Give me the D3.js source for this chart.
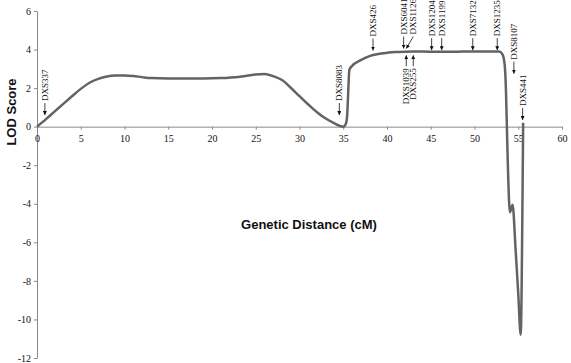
<!DOCTYPE html>
<html>
<head>
<meta charset="utf-8">
<script src="https://cdn.jsdelivr.net/npm/d3@7"></script>
<style>
    body { margin: 0; background: #fff; }
    svg { display: block; }
</style>
</head>
<body>
<svg id="chart"></svg>
<script>
// LOD curve
const distance = [0, 1, 2, 3, 4, 5, 6, 7, 8, 9, 10, 11, 12, 13, 15, 17, 19, 21, 23, 24, 25, 26, 27, 28, 29, 30, 31, 32, 33, 34, 34.6, 35.0, 35.3, 35.45, 35.55, 35.7, 36, 37, 38, 39, 40, 41, 42, 43, 44, 46, 48, 50, 52, 52.8, 53.2, 53.45, 53.6, 53.7, 53.85, 54.05, 54.35, 54.7, 55.0, 55.28, 55.5, 55.56];
const lod = [0, 0.38, 0.78, 1.18, 1.58, 1.96, 2.28, 2.48, 2.6, 2.65, 2.66, 2.63, 2.57, 2.52, 2.5, 2.5, 2.5, 2.52, 2.58, 2.64, 2.71, 2.73, 2.62, 2.42, 2.02, 1.58, 1.15, 0.75, 0.42, 0.17, 0.04, 0.0, 0.15, 0.6, 1.6, 2.95, 3.15, 3.45, 3.66, 3.77, 3.83, 3.87, 3.89, 3.9, 3.9, 3.88, 3.89, 3.9, 3.9, 3.9, 3.75, 3.2, 1.8, 0, -2.6, -4.45, -4.05, -6.4, -8.65, -10.8, -3.0, 0.2];

const xTicks = [0, 5, 10, 15, 20, 25, 30, 35, 40, 45, 50, 55, 60];
const yTicks = [-12, -10, -8, -6, -4, -2, 0, 2, 4, 6];

// Marker labels: where the arrow points and which side the text sits on
const markerNames = ['DXS337', 'DXS8083', 'DXS426', 'DXS6041', 'DXS1126', 'DXS1204', 'DXS1199', 'DXS7132', 'DXS1235', 'DXS8107', 'DXS441', 'DXS1039', 'DXS255'];
const markerCM = [0.9, 34.55, 38.4, 41.9, 42.2, 45.1, 46.25, 49.8, 52.6, 54.5, 55.5, 42.2, 43.0];
const markerLabelCM = [0.9, 34.55, 38.4, 41.9, 43.0, 45.1, 46.25, 49.8, 52.6, 54.5, 55.5, 42.2, 43.0];
const markerTip = [0.6, 0.6, 3.95, 4.05, 4.05, 3.97, 3.97, 3.97, 3.97, 2.75, 0.35, 3.7, 3.7];
const markerSide = ['above', 'above', 'above', 'above', 'above', 'above', 'above', 'above', 'above', 'above', 'above', 'below', 'below'];

const width = 571;
const height = 363;

const svg = d3.select('#chart')
    .attr('width', width)
    .attr('height', height);

const x = d3.scaleLinear().domain([0, 60]).range([37, 562]);
const y = d3.scaleLinear().domain([-12, 6]).range([358, 11]);

const axisColor = '#8a8a8a';
const serif = '"Liberation Serif", "Times New Roman", serif';
const sans = '"Liberation Sans", Arial, sans-serif';

// arrow head
svg.append('defs').append('marker')
    .attr('id', 'head')
    .attr('viewBox', '0 0 6 6')
    .attr('refX', 6)
    .attr('refY', 3)
    .attr('markerWidth', 4)
    .attr('markerHeight', 4)
    .attr('markerUnits', 'userSpaceOnUse')
    .attr('orient', 'auto')
    .append('path')
    .attr('d', 'M0,0L6,3L0,6Z')
    .attr('fill', '#111');

// plain hyphen for negatives, like the original
const plain = d => String(d);

// Y axis
const yAxis = svg.append('g')
    .attr('transform', `translate(${x(0)},0)`)
    .call(d3.axisLeft(y).tickValues(yTicks).tickFormat(plain).tickSize(3).tickSizeOuter(0).tickPadding(3));

// X axis sits on LOD = 0
const xAxis = svg.append('g')
    .attr('transform', `translate(0,${y(0)})`)
    .call(d3.axisBottom(x).tickValues(xTicks).tickFormat(plain).tickSize(3).tickSizeOuter(0).tickPadding(5.5));

[xAxis, yAxis].forEach(g => {
    g.attr('font-family', serif).attr('font-size', 10);
    g.select('.domain').attr('stroke', axisColor);
    g.selectAll('.tick line').attr('stroke', axisColor);
    g.selectAll('.tick text').attr('fill', '#111');
});

// the curve
const line = d3.line()
    .x((d, i) => x(distance[i]))
    .y(d => y(d))
    .curve(d3.curveMonotoneX);

svg.append('path')
    .datum(lod)
    .attr('d', line)
    .attr('fill', 'none')
    .attr('stroke', '#636363')
    .attr('stroke-width', 2.5)
    .attr('stroke-linejoin', 'round');

// marker arrows and names
const markers = markerNames.map((name, i) => ({
    name: name,
    cm: markerCM[i],
    labelCm: markerLabelCM[i],
    tip: markerTip[i],
    side: markerSide[i]
}));

const mg = svg.append('g');

markers.forEach(m => {
    const tx = x(m.cm);
    const ty = y(m.tip);
    const lx = x(m.labelCm);
    const above = m.side === 'above';
    mg.append('line')
        .attr('x1', lx).attr('y1', above ? ty - 12 : ty + 11)
        .attr('x2', tx).attr('y2', ty)
        .attr('stroke', '#111')
        .attr('stroke-width', 0.8)
        .attr('marker-end', 'url(#head)');
    mg.append('text')
        .attr('transform', `translate(${lx},${above ? ty - 14 : ty + 13}) rotate(-90)`)
        .attr('dy', '0.35em')
        .attr('text-anchor', above ? 'start' : 'end')
        .style('font-family', serif)
        .style('font-size', '9px')
        .attr('fill', '#111')
        .text(m.name);
});

// axis titles
svg.append('text')
    .attr('transform', 'translate(16,112) rotate(-90)')
    .attr('text-anchor', 'middle')
    .style('font-family', sans)
    .style('font-weight', 'bold')
    .style('font-size', '13px')
    .attr('fill', '#111')
    .text('LOD Score');

svg.append('text')
    .attr('x', 309)
    .attr('y', 229)
    .attr('text-anchor', 'middle')
    .style('font-family', sans)
    .style('font-weight', 'bold')
    .style('font-size', '13px')
    .attr('fill', '#111')
    .text('Genetic Distance (cM)');
</script>
</body>
</html>
